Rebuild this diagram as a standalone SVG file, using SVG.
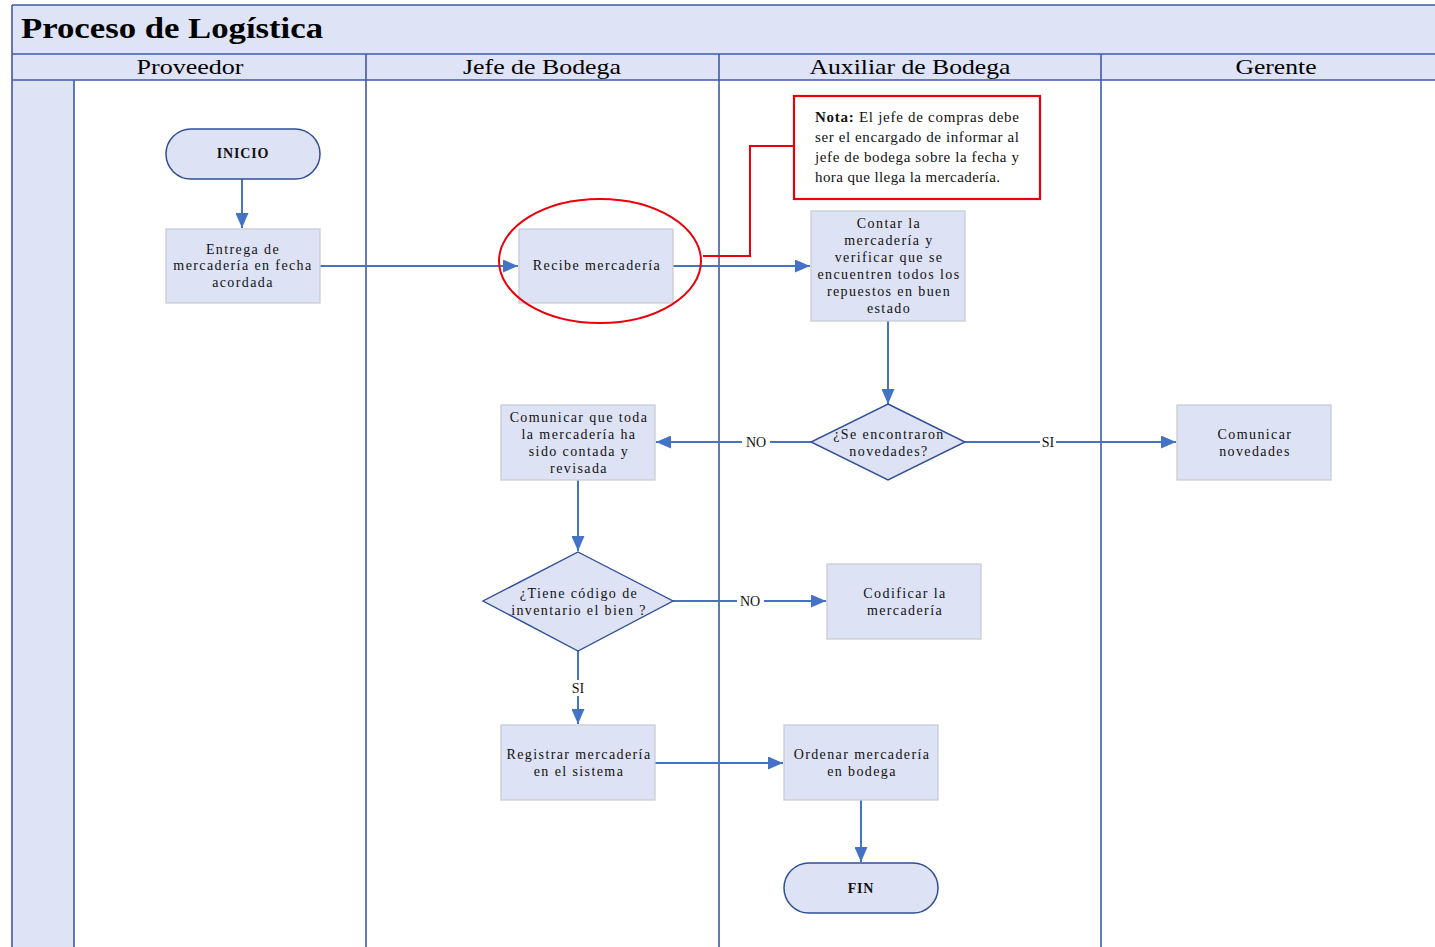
<svg xmlns="http://www.w3.org/2000/svg" width="1435" height="947" viewBox="0 0 1435 947">
<style>
.bg{fill:#DEE3F5;stroke:none}
.ln{stroke:#3F5BA8;stroke-width:1.6;fill:none}
.title{font-family:"Liberation Serif",serif;font-weight:bold;font-size:30px;fill:#000}
.hdr{font-family:"Liberation Serif",serif;font-size:22px;fill:#000;text-anchor:middle}
.box{fill:#DDE2F4;stroke:#C9CCD6;stroke-width:1.3}
.term{fill:#DDE2F4;stroke:#2F4E95;stroke-width:1.5}
.dec{fill:#DDE2F4;stroke:#2F4E95;stroke-width:1.4}
.t{font-family:"Liberation Serif",serif;font-size:14px;fill:#111;text-anchor:middle;letter-spacing:1.4px}
.tb{font-family:"Liberation Serif",serif;font-size:14px;font-weight:bold;fill:#111;text-anchor:middle;letter-spacing:0.8px}
.note{font-family:"Liberation Serif",serif;font-size:15px;fill:#111}
.c{stroke:#4472C4;stroke-width:2;fill:none}
.lbl{font-family:"Liberation Serif",serif;font-size:14px;fill:#111;text-anchor:middle}
.red{stroke:#E8000B;stroke-width:2;fill:none}
</style>
<defs>
<marker id="ah" markerUnits="userSpaceOnUse" markerWidth="15" markerHeight="13" refX="15" refY="6.5" orient="auto">
<path d="M0,0 L15,6.5 L0,13 z" fill="#4472C4"/>
</marker>
</defs>

<g id="pool">
<rect class="bg" x="12" y="5" width="1430" height="75"/>
<rect class="bg" x="12" y="80" width="62" height="870"/>
<path class="ln" d="M12,5 H1435 M12,5 V947 M12,54 H1435 M12,80 H1435 M74,80 V947 M366,54 V947 M719,54 V947 M1101,54 V947"/>
<text class="title" x="21" y="38" textLength="302" lengthAdjust="spacingAndGlyphs">Proceso de Logística</text>
<text class="hdr" x="190" y="74" textLength="107" lengthAdjust="spacingAndGlyphs">Proveedor</text>
<text class="hdr" x="542" y="74" textLength="158" lengthAdjust="spacingAndGlyphs">Jefe de Bodega</text>
<text class="hdr" x="910" y="74" textLength="201" lengthAdjust="spacingAndGlyphs">Auxiliar de Bodega</text>
<text class="hdr" x="1276" y="74" textLength="81" lengthAdjust="spacingAndGlyphs">Gerente</text>
</g>

<g id="connectors">
<path class="c" d="M242,179 V228" marker-end="url(#ah)"/>
<path class="c" d="M320,266 H518" marker-end="url(#ah)"/>
<path class="c" d="M673,266 H810" marker-end="url(#ah)"/>
<path class="c" d="M888,321 V404" marker-end="url(#ah)"/>
<path class="c" d="M811,442 H656" marker-end="url(#ah)"/>
<path class="c" d="M965,442 H1176" marker-end="url(#ah)"/>
<path class="c" d="M578,480 V551" marker-end="url(#ah)"/>
<path class="c" d="M673,601 H826" marker-end="url(#ah)"/>
<path class="c" d="M578,651 V724" marker-end="url(#ah)"/>
<path class="c" d="M655,763 H783" marker-end="url(#ah)"/>
<path class="c" d="M861,800 V862" marker-end="url(#ah)"/>
<rect x="742" y="434" width="28" height="16" fill="#fff"/>
<text class="lbl" x="756" y="447">NO</text>
<rect x="1040" y="434" width="16" height="16" fill="#fff"/>
<text class="lbl" x="1048" y="447">SI</text>
<rect x="737" y="593" width="27" height="16" fill="#fff"/>
<text class="lbl" x="750" y="606">NO</text>
<rect x="569" y="680" width="18" height="16" fill="#fff"/>
<text class="lbl" x="578" y="693">SI</text>
</g>

<g id="inicio">
<rect class="term" x="166" y="129" width="154" height="50" rx="25" ry="25"/>
<text class="tb" x="243" y="158">INICIO</text>
</g>

<g id="entrega">
<rect class="box" x="166" y="229" width="154" height="74"/>
<text class="t" x="243" y="254">Entrega de</text>
<text class="t" x="243" y="270">mercadería en fecha</text>
<text class="t" x="243" y="287">acordada</text>
</g>

<g id="recibe">
<rect class="box" x="519" y="229" width="154" height="74"/>
<text class="t" x="597" y="270">Recibe mercadería</text>
<ellipse class="red" cx="600" cy="261" rx="101" ry="62"/>
</g>

<g id="nota">
<path class="red" d="M703,256 H750 V146 H794"/>
<rect x="794" y="96" width="246" height="103" fill="#fff" stroke="#E8000B" stroke-width="2.2"/>
<text class="note" x="815" y="122" textLength="204" lengthAdjust="spacing"><tspan font-weight="bold">Nota:</tspan> El jefe de compras debe</text>
<text class="note" x="815" y="142" textLength="204" lengthAdjust="spacing">ser el encargado de informar al</text>
<text class="note" x="815" y="162" textLength="204" lengthAdjust="spacing">jefe de bodega sobre la fecha y</text>
<text class="note" x="815" y="182" textLength="185" lengthAdjust="spacing">hora que llega la mercadería.</text>
</g>

<g id="contar">
<rect class="box" x="811" y="211" width="154" height="110"/>
<text class="t" x="889" y="228">Contar la</text>
<text class="t" x="889" y="245">mercadería y</text>
<text class="t" x="889" y="262">verificar que se</text>
<text class="t" x="889" y="279">encuentren todos los</text>
<text class="t" x="889" y="296">repuestos en buen</text>
<text class="t" x="889" y="313">estado</text>
</g>

<g id="decision1">
<polygon class="dec" points="888,404 965,442 888,480 811,442"/>
<text class="t" x="889" y="439">¿Se encontraron</text>
<text class="t" x="889" y="456">novedades?</text>
</g>

<g id="comunicar-novedades">
<rect class="box" x="1177" y="405" width="154" height="75"/>
<text class="t" x="1255" y="439">Comunicar</text>
<text class="t" x="1255" y="456">novedades</text>
</g>

<g id="comunicar-toda">
<rect class="box" x="501" y="405" width="154" height="75"/>
<text class="t" x="579" y="422">Comunicar que toda</text>
<text class="t" x="579" y="439">la mercadería ha</text>
<text class="t" x="579" y="456">sido contada y</text>
<text class="t" x="579" y="473">revisada</text>
</g>

<g id="decision2">
<polygon class="dec" points="578,552 673,601 578,651 483,601"/>
<text class="t" x="579" y="598">¿Tiene código de</text>
<text class="t" x="579" y="615">inventario el bien ?</text>
</g>

<g id="codificar">
<rect class="box" x="827" y="564" width="154" height="75"/>
<text class="t" x="905" y="598">Codificar la</text>
<text class="t" x="905" y="615">mercadería</text>
</g>

<g id="registrar">
<rect class="box" x="501" y="725" width="154" height="75"/>
<text class="t" x="579" y="759">Registrar mercadería</text>
<text class="t" x="579" y="776">en el sistema</text>
</g>

<g id="ordenar">
<rect class="box" x="784" y="725" width="154" height="75"/>
<text class="t" x="862" y="759">Ordenar mercadería</text>
<text class="t" x="862" y="776">en bodega</text>
</g>

<g id="fin">
<rect class="term" x="784" y="863" width="154" height="50" rx="25" ry="25"/>
<text class="tb" x="861" y="893">FIN</text>
</g>
</svg>
